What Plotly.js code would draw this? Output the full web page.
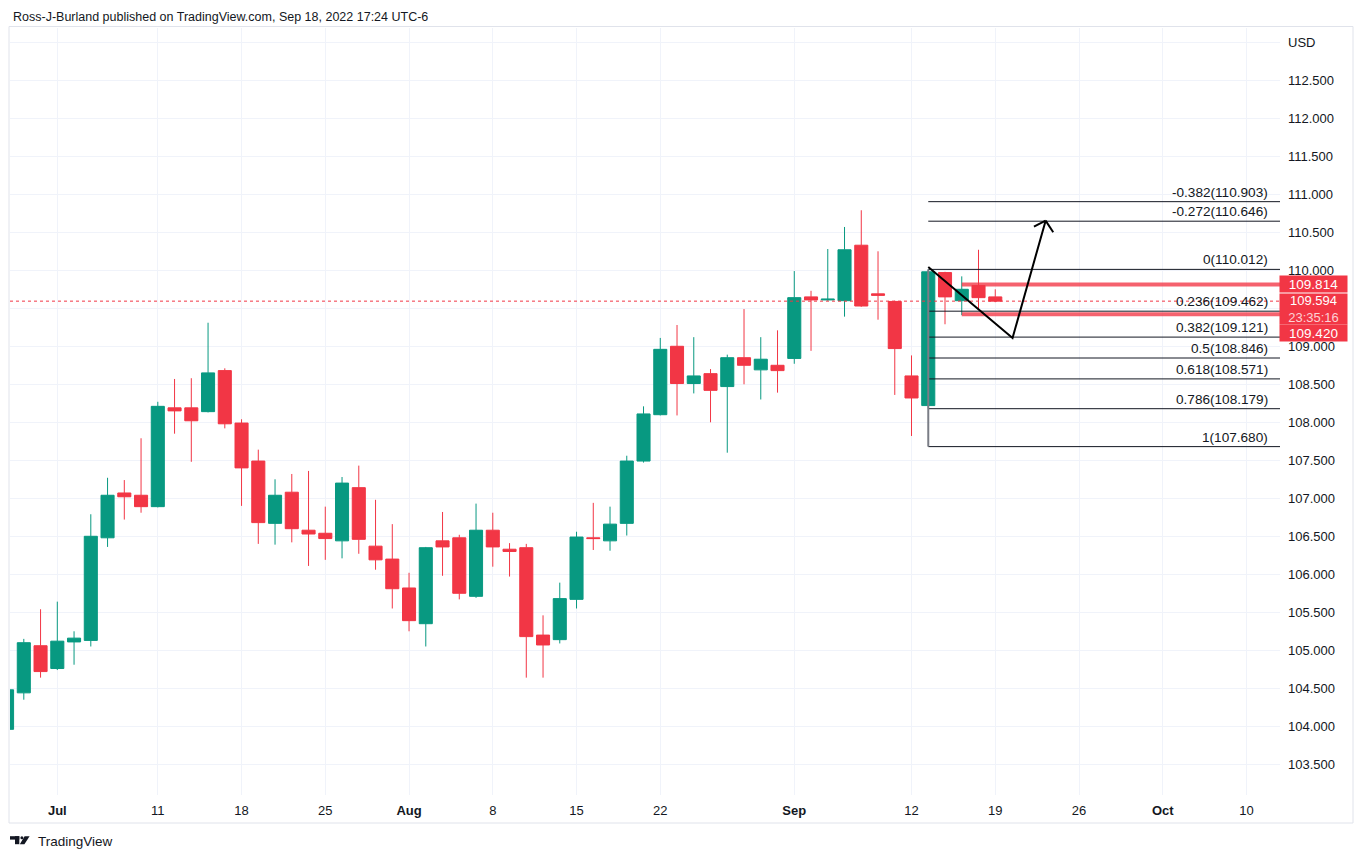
<!DOCTYPE html>
<html><head><meta charset="utf-8">
<script src="https://cdn.plot.ly/plotly-3.0.1.min.js"></script>
<style>html,body{margin:0;padding:0;background:#fff}#chart{width:1363px;height:859px}</style>
</head><body><div id="chart"></div>
<script>
// ---- data ----
const dates = ['2022-06-28','2022-06-29','2022-06-30','2022-07-01','2022-07-04','2022-07-05','2022-07-06','2022-07-07','2022-07-08',
  '2022-07-11','2022-07-12','2022-07-13','2022-07-14','2022-07-15','2022-07-18','2022-07-19','2022-07-20','2022-07-21','2022-07-22',
  '2022-07-25','2022-07-26','2022-07-27','2022-07-28','2022-07-29','2022-08-01','2022-08-02','2022-08-03','2022-08-04','2022-08-05',
  '2022-08-08','2022-08-09','2022-08-10','2022-08-11','2022-08-12','2022-08-15','2022-08-16','2022-08-17','2022-08-18','2022-08-19',
  '2022-08-22','2022-08-23','2022-08-24','2022-08-25','2022-08-26','2022-08-29','2022-08-30','2022-08-31','2022-09-01','2022-09-02',
  '2022-09-05','2022-09-06','2022-09-07','2022-09-08','2022-09-09','2022-09-12','2022-09-13','2022-09-14','2022-09-15','2022-09-16','2022-09-19'];
const open  = [103.96,104.44,105.06,104.76,105.11,105.13,106.48,107.07,107.04,
  106.89,108.19,108.19,108.14,108.68,107.99,107.49,106.67,107.08,106.58,
  106.54,106.44,107.14,106.37,106.20,105.82,105.35,106.44,106.48,105.71,
  106.58,106.33,106.35,105.20,105.14,105.67,106.48,106.44,106.67,107.49,
  108.10,109.00,108.51,108.64,108.47,108.85,108.69,108.75,108.84,109.65,
  109.61,109.60,110.33,109.69,109.59,108.61,108.22,109.97,109.60,109.80,109.65];
const high  = [104.50,105.15,105.54,105.64,105.25,106.79,107.27,107.24,107.79,
  108.27,108.57,108.58,109.31,108.71,108.04,107.64,107.25,107.32,107.36,
  106.89,107.28,107.43,106.98,106.66,106.02,106.36,106.82,106.52,106.93,
  106.81,106.41,106.40,105.46,105.89,106.56,106.94,106.89,107.56,108.21,
  109.11,109.28,109.12,108.70,108.89,109.49,109.12,109.21,109.99,109.73,
  110.28,110.57,110.79,110.25,109.60,108.88,110.01,109.98,109.92,110.27,109.75];
const low   = [103.93,104.35,104.64,104.74,104.81,105.05,106.36,106.72,106.81,
  106.88,107.85,107.48,108.13,107.92,106.90,106.40,106.39,106.42,106.11,
  106.19,106.21,106.27,106.06,105.55,105.25,105.05,105.98,105.67,105.69,
  106.10,105.97,104.64,104.64,105.09,105.55,106.32,106.31,106.51,107.47,
  108.09,108.09,108.38,108.00,107.60,108.50,108.30,108.39,108.77,108.94,
  109.60,109.39,109.52,109.35,108.36,107.82,108.18,109.29,109.41,109.48,109.58];
const close = [104.48,105.10,104.72,105.12,105.16,106.50,107.04,107.02,106.89,
  108.21,108.15,108.02,108.65,107.98,107.40,106.68,107.04,106.60,106.53,
  106.47,107.20,106.46,106.19,105.81,105.39,106.35,106.36,105.75,106.58,
  106.36,106.30,105.18,105.07,105.68,106.49,106.47,106.66,107.49,108.11,
  108.96,108.51,108.61,108.42,108.85,108.75,108.83,108.68,109.64,109.61,
  109.62,110.27,109.53,109.67,108.97,108.32,109.98,109.65,109.75,109.64,109.594];

const tickDates  = ['2022-07-01','2022-07-11','2022-07-18','2022-07-25','2022-08-01','2022-08-08','2022-08-15','2022-08-22',
                    '2022-09-01','2022-09-12','2022-09-19','2022-09-26','2022-10-03','2022-10-10'];
const tickLabels = ['<b>Jul</b>','11','18','25','<b>Aug</b>','8','15','22','<b>Sep</b>','12','19','26','<b>Oct</b>','10'];
const priceTicks = [103.5,104.0,104.5,105.0,105.5,106.0,106.5,107.0,107.5,108.0,108.5,109.0,109.5,110.0,110.5,111.0,111.5,112.0,112.5,113.0];
const hiddenPriceTicks = [109.5];   // covered by the price tags in the reference
const currency = 'USD';

const fibLevels = ['-0.382','-0.272','0','0.236','0.382','0.5','0.618','0.786','1'];
const fibPrices = [110.903,110.646,110.012,109.462,109.121,108.846,108.571,108.179,107.680];
const fibStart = '2022-09-13';
const rayPrices = [109.814,109.420];
const rayStart = '2022-09-15';
const arrowDates  = ['2022-09-13 12:00','2022-09-20 12:45','2022-09-22 12:10'];
const arrowPrices = [110.043,109.109,110.653];
const countdown = '23:35:16';
const headline = 'Ross-J-Burland published on TradingView.com, Sep 18, 2022 17:24 UTC-6';
const brand = 'TradingView';

// ---- styling / helpers ----
const GREEN = '#089981', RED = '#f23645', TXT = '#131722', GRID = '#f0f3fa';
const FONT = 'Liberation Sans, Arial, sans-serif';
const noon = d => d + ' 12:00';
const xRange = ['2022-06-28 16:13', '2022-10-12 12:00'];
const farRight = '2022-10-25 12:00';
const lastPrice = close[close.length - 1];

// pixel -> paper helpers (plot area: x 10..1280, y 28..795)
const PL = 10, PR = 1280, PT = 28, PB = 795;
const px = x => (x - PL) / (PR - PL);
const py = y => (PB - y) / (PB - PT);

const traces = [];
// last price dotted line
traces.push({type:'scatter', mode:'lines', x: xRange, y:[lastPrice,lastPrice],
  line:{color:RED, width:1, dash:'dot'}, hoverinfo:'skip', showlegend:false});
// fib lines
fibPrices.forEach(p => traces.push({type:'scatter', mode:'lines', x:[noon(fibStart), farRight], y:[p,p],
  line:{color:TXT, width:1}, hoverinfo:'skip', showlegend:false}));
// fib trend line (gray vertical)
traces.push({type:'scatter', mode:'lines', x:[noon(fibStart), noon(fibStart)], y:[fibPrices[fibPrices.length-1], fibPrices[2]],
  line:{color:'#7a7d86', width:2}, hoverinfo:'skip', showlegend:false});
// rays
rayPrices.forEach(p => traces.push({type:'scatter', mode:'lines', x:[noon(rayStart), farRight], y:[p,p],
  line:{color:'rgba(242,54,69,0.78)', width:4}, hoverinfo:'skip', showlegend:false}));
// candles
traces.push({type:'candlestick', x: dates.map(noon), open, high, low, close,
  increasing:{line:{color:GREEN, width:1}, fillcolor:GREEN},
  decreasing:{line:{color:RED, width:1}, fillcolor:RED},
  whiskerwidth:0, hoverinfo:'skip', showlegend:false});
// arrow
traces.push({type:'scatter', mode:'lines', x: arrowDates, y: arrowPrices,
  line:{color:'#000', width:2}, hoverinfo:'skip', showlegend:false});

const tip = {x: arrowDates[2], y: arrowPrices[2]};
const shapes = [
  // outer frame
  {type:'rect', xref:'paper', yref:'paper', x0:px(9), x1:px(1353), y0:py(823), y1:py(26.5),
   line:{color:'#e0e3eb', width:1}, layer:'below'},
  // arrow head wings
  {type:'line', xref:'x', yref:'y', xsizemode:'pixel', ysizemode:'pixel', xanchor:tip.x, yanchor:tip.y,
   x0:0, y0:0, x1:-11.7, y1:-6, line:{color:'#000', width:2}},
  {type:'line', xref:'x', yref:'y', xsizemode:'pixel', ysizemode:'pixel', xanchor:tip.x, yanchor:tip.y,
   x0:0, y0:0, x1:7.6, y1:-11.6, line:{color:'#000', width:2}},
  // TradingView logo
  {type:'rect', xref:'paper', yref:'paper', x0:px(10), x1:px(19.3), y0:py(839.6), y1:py(836.2), fillcolor:TXT, line:{width:0}},
  {type:'rect', xref:'paper', yref:'paper', x0:px(15), x1:px(19.3), y0:py(844.2), y1:py(836.2), fillcolor:TXT, line:{width:0}},
  {type:'circle', xref:'paper', yref:'paper', x0:px(20.4), x1:px(23.4), y0:py(839.2), y1:py(836.2), fillcolor:TXT, line:{width:0}},
  {type:'path', xref:'paper', yref:'paper',
   path:`M${px(24.6)},${py(836.2)} L${px(29.6)},${py(836.2)} L${px(24.4)},${py(844.2)} L${px(19.8)},${py(844.2)} Z`,
   fillcolor:TXT, line:{width:0}}
];

const annotations = [];
annotations.push({xref:'paper', yref:'paper', x:px(10.5), y:py(17), xanchor:'left', yanchor:'middle', showarrow:false,
  text:headline, font:{family:FONT, size:12.5, color:TXT}});
annotations.push({xref:'paper', yref:'paper', x:px(35.5), y:py(841), xanchor:'left', yanchor:'middle', showarrow:false,
  text:brand, font:{family:FONT, size:13.5, color:TXT}});
fibLevels.forEach((lv, i) => annotations.push({xref:'paper', yref:'y', x:1, xshift:-10, y:fibPrices[i], xanchor:'right', yanchor:'bottom',
  yshift:0, showarrow:false, text:`${lv}(${fibPrices[i].toFixed(3)})`, font:{family:FONT, size:13.6, color:TXT}}));
// price tags on axis
const tagBase = {xref:'paper', yref:'y', x:1, xshift:-1, xanchor:'left', showarrow:false, bgcolor:RED,
  borderpad:1.5, width:64, align:'center', font:{family:FONT, size:13.5, color:'#fff'}};
annotations.push(Object.assign({}, tagBase, {y:rayPrices[0], yanchor:'middle', height:13, text:rayPrices[0].toFixed(3)}));
annotations.push(Object.assign({}, tagBase, {y:lastPrice, yanchor:'top', yshift:8, height:27, valign:'middle',
  font:{family:FONT, size:13, color:'#fff'},
  text:`${lastPrice.toFixed(3)}<br><span style="color:rgba(255,255,255,0.78)">${countdown}</span>`}));
annotations.push(Object.assign({}, tagBase, {y:rayPrices[1], yanchor:'middle', yshift:-18.4, height:13, text:rayPrices[1].toFixed(3)}));

const layout = {
  width:1363, height:859, margin:{l:PL, r:1363-PR, t:PT, b:859-PB},
  paper_bgcolor:'#fff', plot_bgcolor:'#fff', showlegend:false, boxgap:0.22, boxgroupgap:0,
  font:{family:FONT, size:13, color:TXT},
  xaxis:{type:'date', range:xRange, rangebreaks:[{bounds:['sat','mon']}], rangeslider:{visible:false},
    tickmode:'array', tickvals:tickDates.map(noon), ticktext:tickLabels, showgrid:true, gridcolor:GRID, gridwidth:1,
    zeroline:false, showline:false, ticks:'', ticklabelstandoff:6, tickfont:{family:FONT, size:13, color:TXT}, fixedrange:true},
  yaxis:{side:'right', range:[103.096, 113.188], tickmode:'array', tickvals:priceTicks,
    ticktext:priceTicks.map(v => v === 113 ? currency : (hiddenPriceTicks.includes(v) ? '' : v.toFixed(3))),
    showgrid:true, gridcolor:GRID, gridwidth:1,
    zeroline:false, showline:false, ticks:'', ticklabelstandoff:7, tickfont:{family:FONT, size:13, color:TXT}, fixedrange:true},
  shapes, annotations
};
Plotly.newPlot('chart', traces, layout, {displayModeBar:false, staticPlot:true});
</script></body></html>
